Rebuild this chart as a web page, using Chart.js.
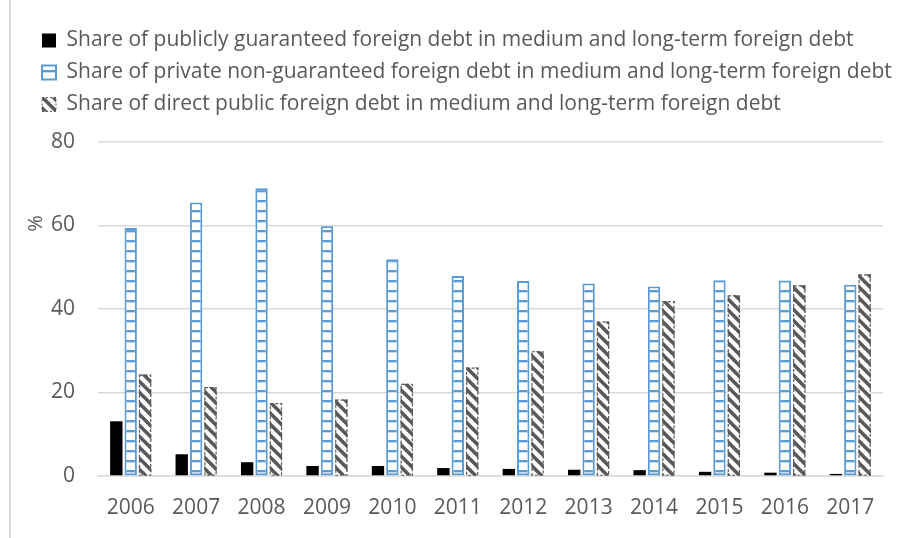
<!DOCTYPE html>
<html>
<head>
<meta charset="utf-8">
<script src="https://cdn.jsdelivr.net/npm/chart.js@4.4.1/dist/chart.umd.min.js"></script>
<style>
  html, body { margin: 0; padding: 0; background: #fff; }
  #wrap { position: relative; width: 901px; height: 538px; }
  #frame { position: absolute; left: 9px; top: 0; width: 2px; height: 538px; background: #d9d9d9; }
</style>
</head>
<body>
<div id="wrap">
  <canvas id="chart" width="901" height="538"></canvas>
  <div id="frame"></div>
</div>
<script>
const YEARS = ["2006", "2007", "2008", "2009", "2010", "2011", "2012", "2013", "2014", "2015", "2016", "2017"];

const GUARANTEED = [13.1, 5.2, 3.3, 2.4, 2.4, 1.9, 1.7, 1.5, 1.4, 1.0, 0.8, 0.5];
const PRIVATE    = [59.4, 65.5, 68.9, 59.8, 51.9, 47.9, 46.7, 46.1, 45.4, 46.9, 46.8, 45.8];
const DIRECT     = [24.3, 21.3, 17.5, 18.3, 22.1, 26.0, 29.9, 37.0, 41.9, 43.3, 45.7, 48.3];

const Y_TICKS = [0, 20, 40, 60, 80];

const LABELS = [
  "Share of publicly guaranteed foreign debt in medium and long-term foreign debt",
  "Share of private non-guaranteed foreign debt in medium and long-term foreign debt",
  "Share of direct public foreign debt in medium and long-term foreign debt"
];

const TEXT_COLOR = "#595959";
const BLUE = "#5b9bd5";
const FONT = "'Open Sans'";

// horizontal ladder fill for the private series
function ladderPattern() {
  const c = document.createElement("canvas");
  c.width = 8; c.height = 10;
  const g = c.getContext("2d");
  g.fillStyle = "#fff";
  g.fillRect(0, 0, c.width, c.height);
  g.fillStyle = BLUE;
  g.fillRect(0, 0, c.width, 2);
  g.fillStyle = "#c5dbf0";
  g.fillRect(0, 2, c.width, 1);
  return g.createPattern(c, "repeat");
}

// wide downward diagonal fill for the direct public series
function diagonalPattern() {
  const s = 11;
  const c = document.createElement("canvas");
  c.width = s; c.height = s;
  const g = c.getContext("2d");
  g.fillStyle = "#fff";
  g.fillRect(0, 0, s, s);
  g.strokeStyle = "#595959";
  g.lineWidth = 3.6;
  g.beginPath();
  g.moveTo(-2, -2); g.lineTo(s + 2, s + 2);
  g.moveTo(-2, s - 2); g.lineTo(2, s + 2);
  g.moveTo(s - 2, -2); g.lineTo(s + 2, 2);
  g.stroke();
  return g.createPattern(c, "repeat");
}

const legendMargin = {
  id: "legendMargin",
  beforeInit(chart) {
    const fit = chart.legend.fit;
    chart.legend.fit = function () {
      fit.bind(chart.legend)();
      this.height += 17;
    };
  }
};

// dashed outline on the direct-debt bars, "%" unit label on the y axis
const extras = {
  id: "extras",
  afterDatasetsDraw(chart) {
    const ctx = chart.ctx;
    const meta = chart.getDatasetMeta(2);
    ctx.save();
    ctx.strokeStyle = "#595959";
    ctx.lineWidth = 1.2;
    ctx.setLineDash([3, 2]);
    meta.data.forEach(bar => {
      const p = bar.getProps(["x", "y", "base", "width"], true);
      ctx.strokeRect(p.x - p.width / 2 + 0.6, p.y + 0.6, p.width - 1.2, p.base - p.y - 0.6);
    });
    ctx.restore();
  },
  afterDraw(chart) {
    const ctx = chart.ctx;
    const y = chart.scales.y.getPixelForValue(60.5);
    ctx.save();
    ctx.translate(36, y);
    ctx.rotate(-Math.PI / 2);
    ctx.fillStyle = TEXT_COLOR;
    ctx.font = "20px " + FONT;
    ctx.textAlign = "center";
    ctx.textBaseline = "middle";
    ctx.fillText("%", 0, 0);
    ctx.restore();
  }
};

new Chart(document.getElementById("chart"), {
  type: "bar",
  data: {
    labels: YEARS,
    datasets: [
      { label: LABELS[0], data: GUARANTEED, backgroundColor: "#000", borderWidth: 0 },
      { label: LABELS[1], data: PRIVATE, backgroundColor: ladderPattern(), borderColor: BLUE, borderWidth: 2, borderSkipped: false },
      { label: LABELS[2], data: DIRECT, backgroundColor: diagonalPattern(), borderWidth: 0 }
    ]
  },
  options: {
    responsive: false,
    animation: false,
    layout: { padding: { left: 31, right: 0, top: 19, bottom: 0 } },
    datasets: { bar: { categoryPercentage: 0.66, barPercentage: 0.86 } },
    plugins: {
      tooltip: { enabled: false },
      legend: {
        position: "top",
        align: "start",
        labels: {
          color: TEXT_COLOR,
          font: { family: FONT, size: 21 },
          boxWidth: 14,
          boxHeight: 14,
          padding: 11,
          generateLabels(chart) {
            const items = Chart.defaults.plugins.legend.labels.generateLabels(chart);
            items[1].lineWidth = 2;
            items[2].strokeStyle = "#595959";
            items[2].lineWidth = 1;
            items[2].lineDash = [2, 2];
            return items;
          }
        }
      }
    },
    scales: {
      x: {
        afterFit(scale) { scale.height = 62; },
        grid: { display: false },
        border: { color: "#d9d9d9", width: 1.5 },
        ticks: { color: TEXT_COLOR, font: { family: FONT, size: 21 }, padding: 11, maxRotation: 0 }
      },
      y: {
        min: 0,
        max: 80,
        afterFit(scale) { scale.width = 67; },
        afterBuildTicks(scale) { scale.ticks = Y_TICKS.map(v => ({ value: v })); },
        grid: { color: "#d9d9d9", lineWidth: 1.5, drawTicks: false },
        border: { display: false },
        ticks: { color: TEXT_COLOR, font: { family: FONT, size: 21 }, padding: 23 }
      },
      // empty right gutter so the plot stops short of the edge
      gutter: {
        position: "right",
        min: 0,
        max: 80,
        afterFit(scale) { scale.width = 18; },
        grid: { display: false },
        border: { display: false },
        ticks: { display: false }
      }
    }
  },
  plugins: [legendMargin, extras]
});
</script>
</body>
</html>
